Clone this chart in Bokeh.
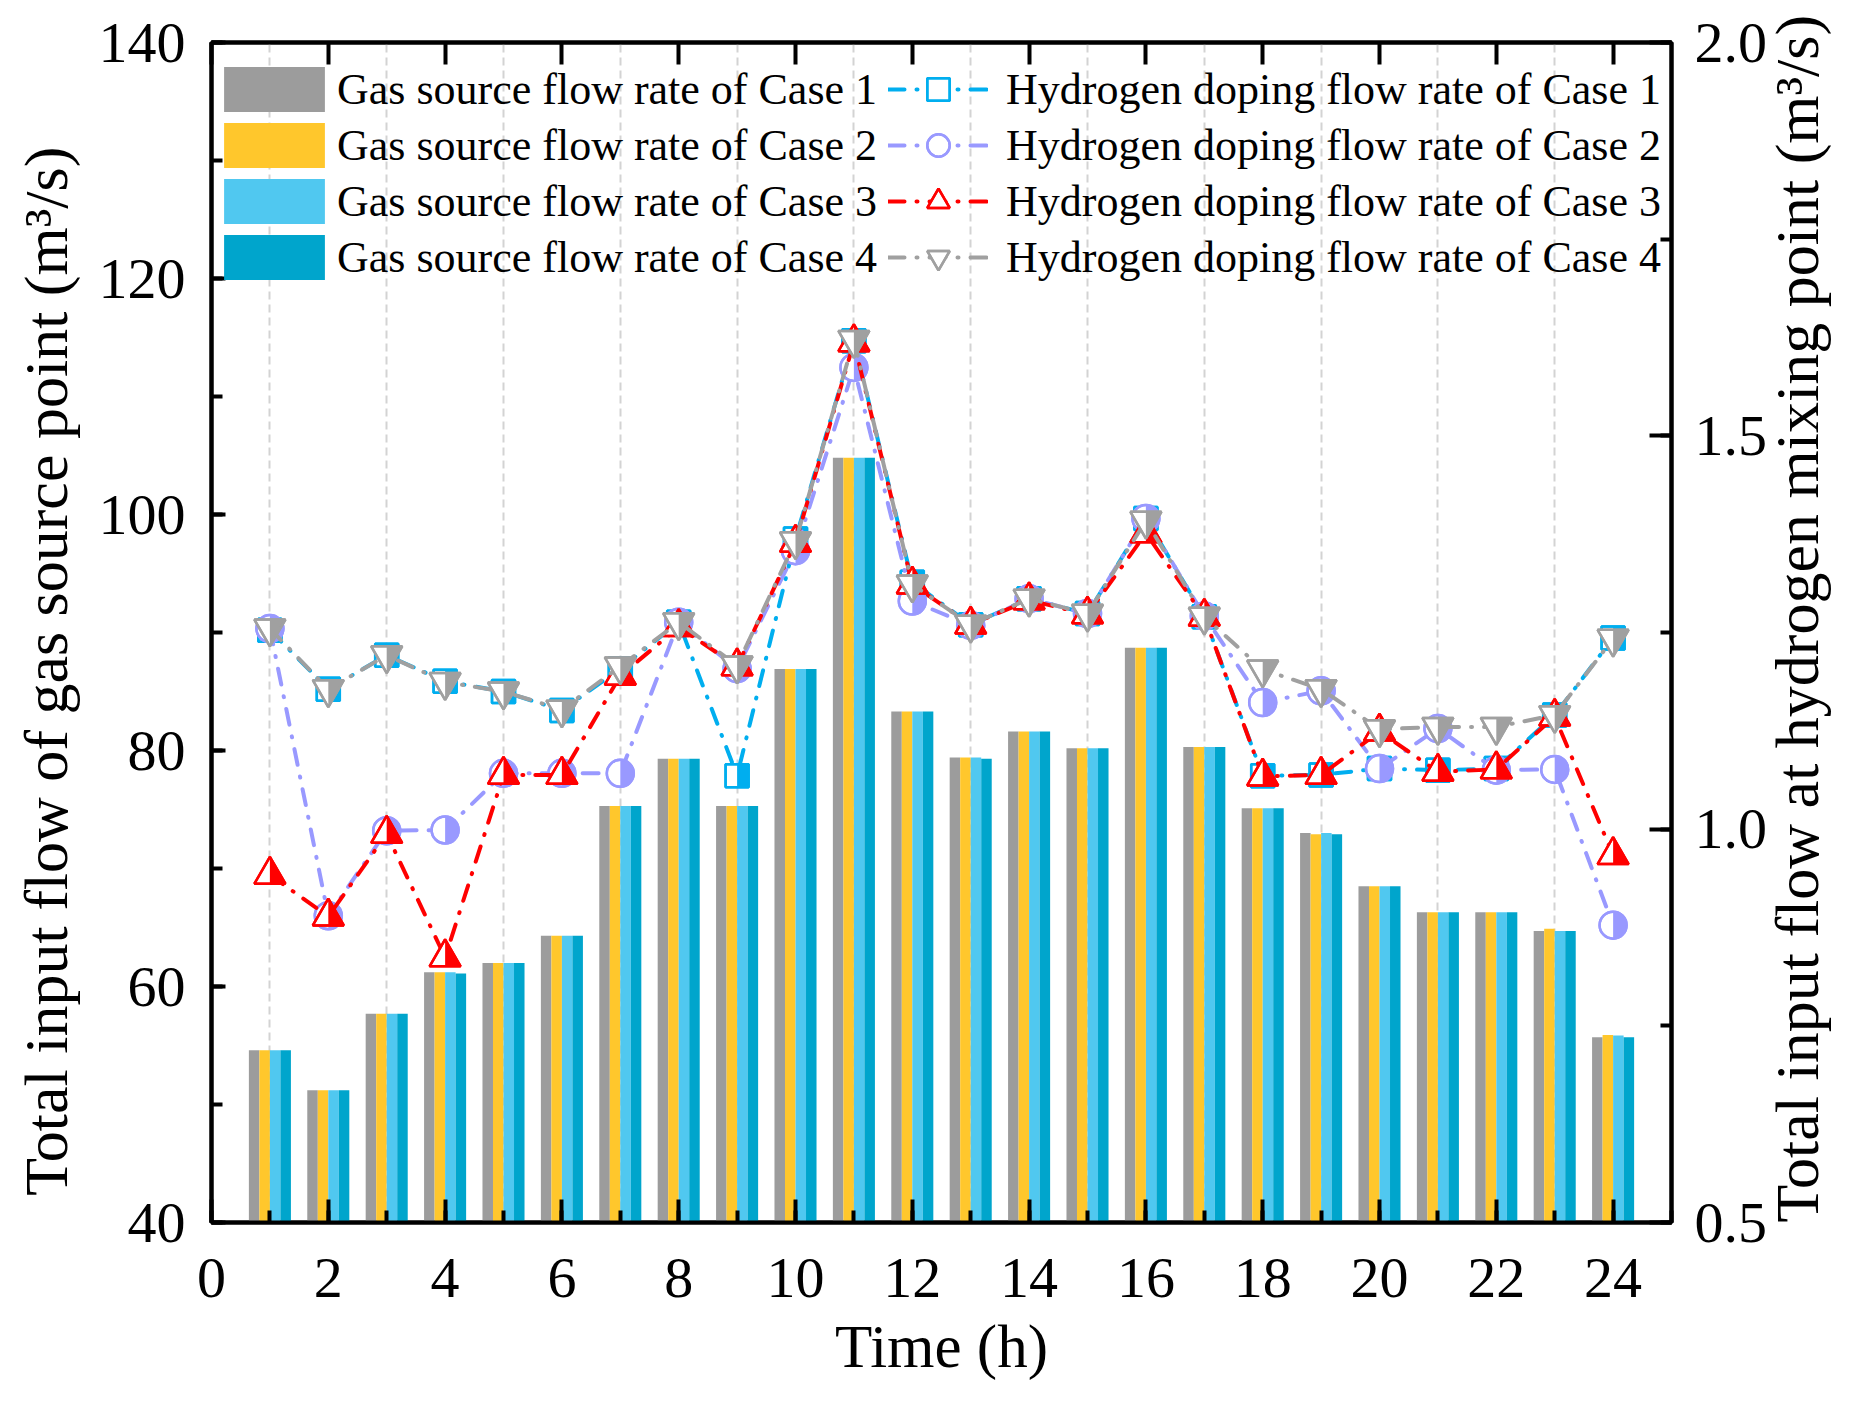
import math
from bokeh.plotting import figure
from bokeh.models import (Range1d, LinearAxis, SingleIntervalTicker, FixedTicker,
                          Legend, LegendItem, PrintfTickFormatter, ColumnDataSource)
from bokeh.transform import dodge
from bokeh.embed import file_html
from bokeh.resources import INLINE

# ---------------- data ----------------
hours = list(range(1, 25))

gas_case1 = [54.6, 51.2, 57.7, 61.2, 62.0, 64.3, 75.3, 79.3, 75.3, 86.9, 104.8, 83.3,
             79.4, 81.6, 80.2, 88.7, 80.3, 75.1, 73.0, 68.5, 66.3, 66.3, 64.7, 55.7]
gas_case2 = [54.6, 51.2, 57.7, 61.2, 62.0, 64.3, 75.3, 79.3, 75.3, 86.9, 104.8, 83.3,
             79.4, 81.6, 80.2, 88.7, 80.3, 75.1, 72.9, 68.5, 66.3, 66.3, 64.9, 55.9]
gas_case3 = [54.6, 51.2, 57.7, 61.2, 62.0, 64.3, 75.3, 79.3, 75.3, 86.9, 104.8, 83.3,
             79.4, 81.6, 80.2, 88.7, 80.3, 75.1, 73.0, 68.5, 66.3, 66.3, 64.7, 55.85]
gas_case4 = [54.6, 51.2, 57.7, 61.1, 62.0, 64.3, 75.3, 79.3, 75.3, 86.9, 104.8, 83.3,
             79.3, 81.6, 80.2, 88.7, 80.3, 75.1, 72.9, 68.5, 66.3, 66.3, 64.7, 55.7]

h2_case1 = [1.253, 1.178, 1.221, 1.188, 1.175, 1.151, 1.204, 1.263, 1.068, 1.369, 1.621, 1.314,
            1.260, 1.293, 1.274, 1.395, 1.270, 1.068, 1.069, 1.077, 1.075, 1.077, 1.145, 1.243]
h2_case2 = [1.255, 0.890, 0.998, 0.999, 1.071, 1.071, 1.071, 1.263, 1.204, 1.354, 1.587, 1.290,
            1.259, 1.293, 1.274, 1.395, 1.271, 1.161, 1.176, 1.077, 1.128, 1.075, 1.076, 0.878]
h2_case3 = [0.942, 0.889, 0.994, 0.837, 1.069, 1.069, 1.195, 1.257, 1.207, 1.364, 1.619, 1.311,
            1.260, 1.291, 1.273, 1.376, 1.270, 1.067, 1.069, 1.124, 1.073, 1.076, 1.143, 0.967]
h2_case4 = [1.255, 1.178, 1.221, 1.187, 1.175, 1.152, 1.207, 1.263, 1.208, 1.366, 1.622, 1.311,
            1.260, 1.293, 1.274, 1.392, 1.270, 1.203, 1.178, 1.127, 1.130, 1.130, 1.145, 1.242]

bar_labels = ["Gas source flow rate of Case 1", "Gas source flow rate of Case 2",
              "Gas source flow rate of Case 3", "Gas source flow rate of Case 4"]
line_labels = ["Hydrogen doping flow rate of Case 1", "Hydrogen doping flow rate of Case 2",
               "Hydrogen doping flow rate of Case 3", "Hydrogen doping flow rate of Case 4"]

# ---------------- styles ----------------
FONT = "Liberation Serif"
bar_colors = ["#9C9C9C", "#FFC72C", "#50C8F0", "#00A5CC"]
line_colors = ["#00AEEF", "#9999FF", "#FF0000", "#A0A0A0"]
bar_offsets = [-0.27, -0.09, 0.09, 0.27]
bar_width = 0.18

FW, FH = 1460, 1180
X0, X1 = 0, 25
YL0, YL1 = 40, 140
YR0, YR1 = 0.5, 2.0
px_x = FW / (X1 - X0)
px_yr = FH / (YR1 - YR0)

p = figure(frame_width=FW, frame_height=FH,
           x_range=Range1d(X0, X1), y_range=Range1d(YL0, YL1),
           output_backend="svg", toolbar_location=None,
           min_border_left=211, min_border_right=196, min_border_top=42, min_border_bottom=180,
           background_fill_color="white", border_fill_color="white")
p.extra_y_ranges = {"right": Range1d(YR0, YR1)}

p.outline_line_color = "black"
p.outline_line_width = 4
p.ygrid.visible = False
p.xgrid.ticker = FixedTicker(ticks=list(range(1, 25, 2)))
p.xgrid.grid_line_color = "#D3D3D3"
p.xgrid.grid_line_width = 2
p.xgrid.grid_line_dash = "8 5"


def style_axis(ax, major_in, minor_in):
    ax.axis_line_width = 4
    ax.axis_line_color = "black"
    ax.major_tick_in = major_in
    ax.major_tick_out = 0
    ax.minor_tick_in = minor_in
    ax.minor_tick_out = 0
    ax.major_tick_line_width = 4
    ax.minor_tick_line_width = 4
    ax.major_tick_line_color = "black"
    ax.minor_tick_line_color = "black"
    ax.major_label_text_font = FONT
    ax.major_label_text_font_size = "58px"
    ax.major_label_text_color = "black"
    ax.axis_label_text_font = FONT
    ax.axis_label_text_font_size = "61px"
    ax.axis_label_text_font_style = "normal"
    ax.axis_label_text_color = "black"


# bottom axis
xax = p.xaxis[0]
xax.ticker = SingleIntervalTicker(interval=2, num_minor_ticks=2)
style_axis(xax, 23, 12)
xax.axis_label = "Time (h)"
xax.major_label_standoff = 36
xax.axis_label_standoff = 13

# left axis
yax = p.yaxis[0]
yax.ticker = SingleIntervalTicker(interval=20, num_minor_ticks=2)
style_axis(yax, 14, 11)
yax.axis_label = "Total input flow of gas source point (m³/s)" + "\u00a0" * 5
yax.axis_label_text_font_size = "62px"
yax.major_label_standoff = 26
yax.axis_label_standoff = 16

# top axis (ticks only, no labels)
tax = LinearAxis(ticker=SingleIntervalTicker(interval=2, num_minor_ticks=2))
style_axis(tax, 22, 0)
tax.minor_tick_line_color = None
tax.major_label_text_font_size = "1px"
tax.major_label_text_color = None
tax.major_label_standoff = 0
p.add_layout(tax, "above")

# right axis: title reads bottom-to-top, starting at the bottom of the axis
rax = LinearAxis(y_range_name="right",
                 ticker=SingleIntervalTicker(interval=0.5, num_minor_ticks=2),
                 formatter=PrintfTickFormatter(format="%.1f"))
style_axis(rax, 22, 11)
rax.axis_label = "Total input flow at hydrogen mixing point (m³/s)"
rax.axis_label_text_font_size = "62px"
rax.axis_label_orientation = math.pi / 2
rax.axis_label_align = "start"
rax.major_label_standoff = 23
rax.axis_label_standoff = 27
p.add_layout(rax, "right")

# ---------------- bars ----------------
bar_src = ColumnDataSource(dict(hour=hours, c1=gas_case1, c2=gas_case2, c3=gas_case3, c4=gas_case4))
bar_renderers = []
for i, col in enumerate(["c1", "c2", "c3", "c4"]):
    r = p.vbar(x=dodge("hour", bar_offsets[i], range=p.x_range), top=col, width=bar_width,
               source=bar_src, fill_color=bar_colors[i], line_color=None)
    bar_renderers.append(r)

# ---------------- lines with half-filled markers ----------------
series = [h2_case1, h2_case2, h2_case3, h2_case4]
markers = ["square", "circle", "triangle", "inverted_triangle"]
msizes = [23, 27, 31, 31]
dash = "16 12 1 12"

line_items = []
for i, vals in enumerate(series):
    c = line_colors[i]
    src = ColumnDataSource(dict(x=hours, y=vals))
    ln = p.line("x", "y", source=src, y_range_name="right", line_color=c, line_width=4,
                line_dash=dash, line_cap="round")
    bg = p.scatter("x", "y", source=src, y_range_name="right", marker=markers[i], size=msizes[i],
                   fill_color="white", line_color=c, line_width=2.5)
    s = msizes[i]
    if markers[i] == "circle":
        p.wedge(x="x", y="y", source=src, y_range_name="right", radius=s / 2, radius_units="screen",
                start_angle=-math.pi / 2, end_angle=math.pi / 2, fill_color=c, line_color=None)
    else:
        xs, ys = [], []
        for x, y in zip(hours, vals):
            if markers[i] == "square":
                hw = (s / 2) / px_x
                hh = (s / 2) / px_yr
                xs.append([x, x + hw, x + hw, x])
                ys.append([y - hh, y - hh, y + hh, y + hh])
            elif markers[i] == "triangle":
                r_ = s / 2
                h = r_ * math.sqrt(3)
                xs.append([x, x + r_ / px_x, x])
                ys.append([y - (h / 3) / px_yr, y - (h / 3) / px_yr, y + (2 * h / 3) / px_yr])
            else:
                r_ = s / 2
                h = r_ * math.sqrt(3)
                xs.append([x, x + r_ / px_x, x])
                ys.append([y + (h / 3) / px_yr, y + (h / 3) / px_yr, y - (2 * h / 3) / px_yr])
        p.patches(xs=xs, ys=ys, y_range_name="right", fill_color=c, line_color=None)
    ol = p.scatter("x", "y", source=src, y_range_name="right", marker=markers[i], size=msizes[i],
                   fill_color=None, line_color=c, line_width=2.5)
    line_items.append(LegendItem(label=line_labels[i], renderers=[ln, bg, ol]))

# ---------------- legends ----------------
leg1 = Legend(items=[LegendItem(label=bar_labels[i], renderers=[bar_renderers[i]]) for i in range(4)],
              location=(0, 937), glyph_width=126, glyph_height=56, spacing=0, padding=0, margin=0,
              label_standoff=0, label_text_font=FONT, label_text_font_size="44px",
              label_text_color="black",
              label_height=50, border_line_alpha=0, background_fill_alpha=0)
leg2 = Legend(items=line_items,
              location=(677, 937), glyph_width=100, glyph_height=56, spacing=0, padding=0, margin=0,
              label_standoff=18, label_text_font=FONT, label_text_font_size="44px",
              label_text_color="black",
              label_height=50, border_line_alpha=0, background_fill_alpha=0)
p.add_layout(leg1)
p.add_layout(leg2)

open("out.html", "w").write(file_html(p, INLINE))
